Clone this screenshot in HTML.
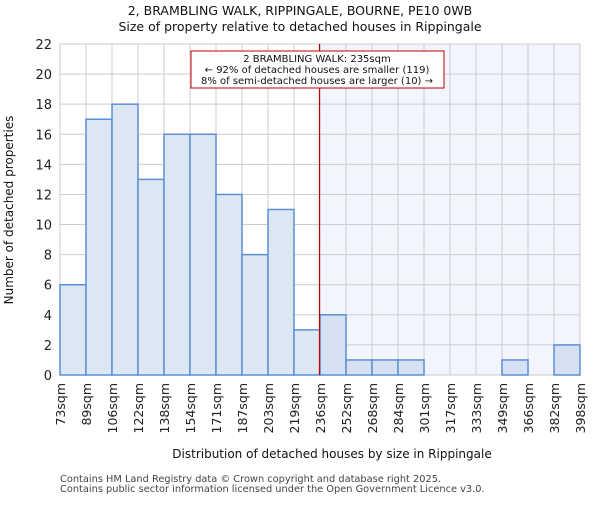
<!DOCTYPE html>
<html><head><meta charset="utf-8"><style>body{margin:0;background:#fff}svg{font-family:"DejaVu Sans","Liberation Sans",sans-serif}</style></head>
<body>
<svg id="c" width="600" height="500"></svg>
<script>
const categories=["73sqm","89sqm","106sqm","122sqm","138sqm","154sqm","171sqm","187sqm","203sqm","219sqm","236sqm","252sqm","268sqm","284sqm","301sqm","317sqm","333sqm","349sqm","366sqm","382sqm","398sqm"];
const counts=[6,17,18,13,16,16,12,8,11,3,4,1,1,1,0,0,0,1,0,2];
const yTicks=[0,2,4,6,8,10,12,14,16,18,20,22];
const markerBin=10;
const NS="http://www.w3.org/2000/svg";
const svg=document.getElementById('c');
const L=60,R=580,T=44,B=375,yMax=22;
const bw=(R-L)/counts.length;
const x=i=>L+i*bw, y=v=>B-(B-T)*v/yMax;
function mk(t,a,p){const e=document.createElementNS(NS,t);for(const k in a)e.setAttribute(k,a[k]);(p||svg).appendChild(e);return e;}
let e;
e=mk('rect',{x:x(markerBin),y:T,width:R-x(markerBin),height:B-T,fill:'#f2f5fd'});


for(let i=0;i<=counts.length;i++){e=mk('line',{x1:x(i),x2:x(i),y1:T,y2:B,stroke:'#ccc'});

}
yTicks.forEach(v=>{e=mk('line',{x1:L,x2:R,y1:y(v),y2:y(v),stroke:'#ccc'});


e=mk('text',{x:L-8,y:y(v)+5,'text-anchor':'end','font-size':13,fill:'#222'});e.textContent=v;

});
counts.forEach((v,i)=>{if(v<=0)return;e=mk('rect',{x:x(i),y:y(v),width:bw,height:B-y(v),fill:i>=markerBin?'#d5e1f2':'#dde7f4',stroke:'#5b8fd6','stroke-width':1.5});

});
categories.forEach((c,i)=>{e=mk('text',{transform:`translate(${x(i)+5},${B+8}) rotate(-90)`,'text-anchor':'end','font-size':12.5,fill:'#222'});e.textContent=c;

});
e=mk('line',{x1:x(markerBin)-0.5,x2:x(markerBin)-0.5,y1:T,y2:B,stroke:'#c00000','stroke-width':1.2});


e=mk('rect',{x:191,y:51,width:253,height:37,fill:'#fff',stroke:'#c00000'});


["2 BRAMBLING WALK: 235sqm","← 92% of detached houses are smaller (119)","8% of semi-detached houses are larger (10) →"].forEach((t,k)=>{e=mk('text',{x:317,y:62+k*11,'text-anchor':'middle','font-size':10,fill:'#111'});e.textContent=t;

});
[["2, BRAMBLING WALK, RIPPINGALE, BOURNE, PE10 0WB",15],["Size of property relative to detached houses in Rippingale",31]].forEach(([t,yy])=>{e=mk('text',{x:300,y:yy,'text-anchor':'middle','font-size':12.5,fill:'#111'});e.textContent=t;

});
e=mk('text',{x:332,y:458,'text-anchor':'middle','font-size':12,fill:'#111'});e.textContent="Distribution of detached houses by size in Rippingale";


e=mk('text',{transform:'translate(13,210) rotate(-90)','text-anchor':'middle','font-size':12,fill:'#111'});e.textContent="Number of detached properties";


["Contains HM Land Registry data © Crown copyright and database right 2025.","Contains public sector information licensed under the Open Government Licence v3.0."].forEach((t,k)=>{e=mk('text',{x:60,y:482+k*10,'font-size':9.8,fill:'#444'});e.textContent=t;

});
</script>
</body></html>
